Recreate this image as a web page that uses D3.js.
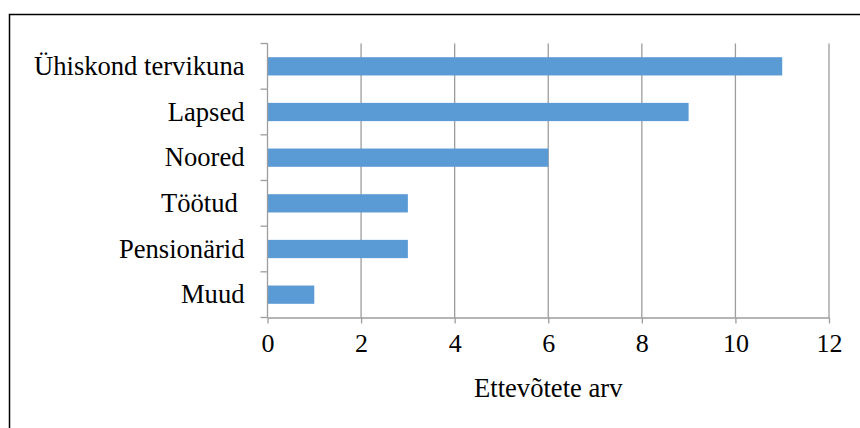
<!DOCTYPE html>
<html>
<head>
<meta charset="utf-8">
<script src="https://cdn.jsdelivr.net/npm/d3@7"></script>
<style>
  body { margin: 0; background: #fff; }
</style>
</head>
<body>
<div id="canvas"></div>
<script>
const categories = ["Ühiskond tervikuna", "Lapsed", "Noored", "Töötud ", "Pensionärid", "Muud"];
const values = [11, 9, 6, 3, 3, 1];
const xTicks = [0, 2, 4, 6, 8, 10, 12];
const axisTitle = "Ettevõtete arv";

const width = 860;
const height = 428;
const margin = { top: 43.5, left: 267.5, bottom: 110.5, right: 31 };
const iwidth = width - margin.left - margin.right;
const iheight = height - margin.top - margin.bottom;
const gridColor = "#9d9d9d";
const serif = "'Liberation Serif', 'Times New Roman', serif";

const svg = d3.select("#canvas").append("svg")
  .attr("width", width)
  .attr("height", height)
  .style("font-family", serif);

// outer frame (only left and top edges are inside the picture)
svg.append("rect")
  .attr("x", 9.5).attr("y", 14.5)
  .attr("width", width + 10).attr("height", height + 10)
  .attr("fill", "none").attr("stroke", "#000").attr("stroke-width", 1.5);

const g = svg.append("g").attr("transform", `translate(${margin.left},${margin.top})`);

const x = d3.scaleLinear().domain([0, 12]).range([0, iwidth]);
const y = d3.scaleBand().domain(categories).range([0, iheight]).paddingInner(0.6).paddingOuter(0.3);
const yb = d3.scaleBand().domain(categories).range([0, iheight]);

// vertical gridlines
g.selectAll("line.grid").data(xTicks.slice(1)).enter().append("line")
  .attr("class", "grid")
  .attr("x1", d => x(d)).attr("x2", d => x(d))
  .attr("y1", 0).attr("y2", iheight)
  .attr("stroke", gridColor).attr("stroke-width", 1.3);

// bars
g.selectAll("rect.bar").data(values).enter().append("rect")
  .attr("class", "bar")
  .attr("x", x(0))
  .attr("y", (d, i) => y(categories[i]))
  .attr("width", d => x(d) - x(0))
  .attr("height", y.bandwidth())
  .attr("fill", "#5b9bd5");

// category axis: line and boundary ticks
g.append("line")
  .attr("x1", 0).attr("x2", 0).attr("y1", 0).attr("y2", iheight)
  .attr("stroke", gridColor).attr("stroke-width", 1.3);
const bounds = categories.map(c => yb(c)).concat([iheight]);
g.selectAll("line.ytick").data(bounds).enter().append("line")
  .attr("class", "ytick")
  .attr("x1", -7).attr("x2", 0)
  .attr("y1", d => d).attr("y2", d => d)
  .attr("stroke", gridColor).attr("stroke-width", 1.3);
g.selectAll("text.ylab").data(categories).enter().append("text")
  .attr("class", "ylab")
  .attr("x", -23)
  .attr("y", d => yb(d) + yb.bandwidth() / 2)
  .attr("dy", "0.32em")
  .attr("text-anchor", "end")
  .attr("xml:space", "preserve")
  .style("white-space", "pre")
  .style("font-family", serif)
  .style("font-size", "26.6px")
  .attr("fill", "#000")
  .text(d => d);

// value axis
const xAxis = g.append("g")
  .attr("transform", `translate(0,${iheight})`)
  .call(d3.axisBottom(x).tickValues(xTicks).tickSize(6).tickSizeOuter(0).tickFormat(d3.format("d")));
xAxis.attr("font-family", null);
xAxis.select(".domain").attr("stroke", gridColor).attr("stroke-width", 1.3);
xAxis.selectAll(".tick line").attr("stroke", gridColor).attr("stroke-width", 1.3);
xAxis.selectAll(".tick text")
  .attr("y", 16).attr("dy", "0.71em")
  .style("font-size", "26px")
  .style("font-family", serif)
  .attr("fill", "#000");

g.append("text")
  .attr("x", iwidth / 2)
  .attr("y", iheight + 79)
  .attr("text-anchor", "middle")
  .style("font-family", serif)
  .style("font-size", "26.6px")
  .attr("fill", "#000")
  .text(axisTitle);
</script>
</body>
</html>
